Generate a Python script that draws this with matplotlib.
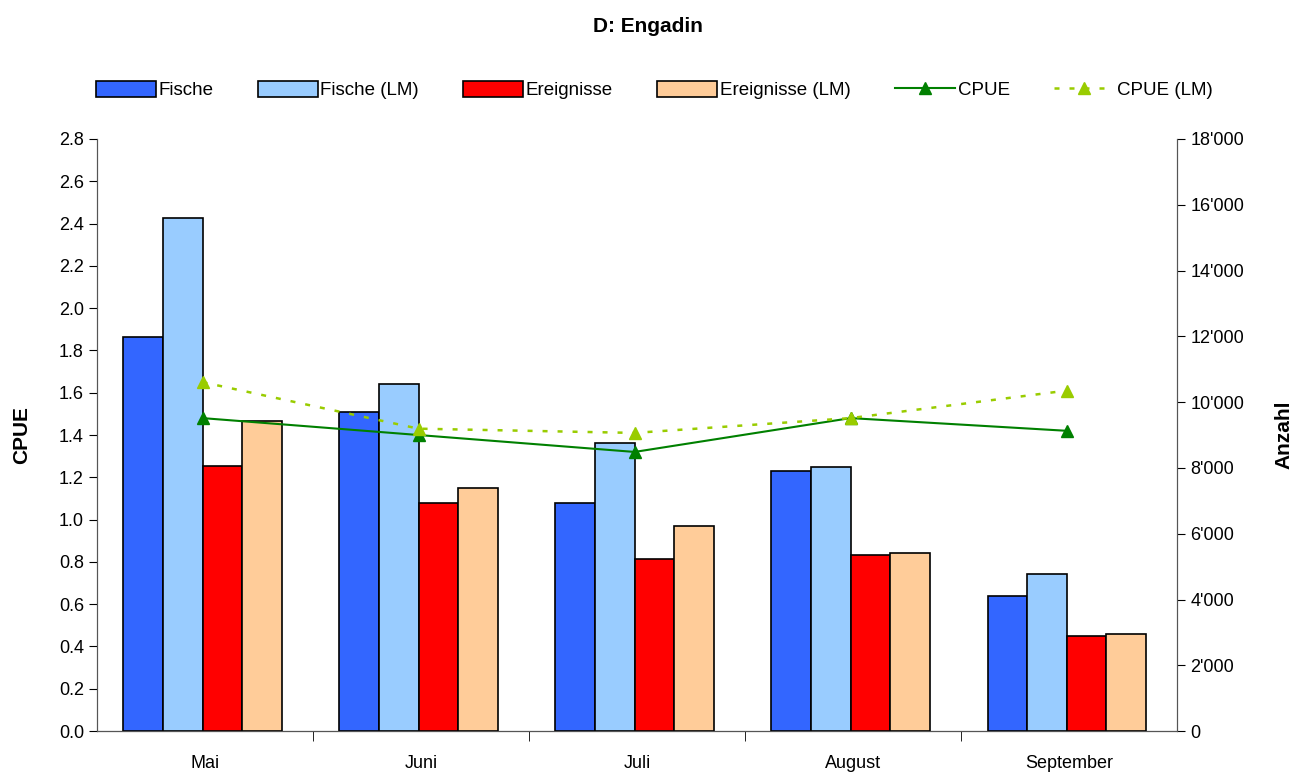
import numpy as np
import matplotlib.pyplot as plt
from matplotlib.ticker import FuncFormatter, FixedLocator

plt.rcParams['font.family'] = ['Liberation Sans', 'DejaVu Sans']

months = ['Mai', 'Juni', 'Juli', 'August', 'September']
fische = [11970, 9690, 6930, 7910, 4120]
fische_lm = [15600, 10550, 8760, 8020, 4790]
ereignisse = [8060, 6920, 5230, 5350, 2890]
ereignisse_lm = [9430, 7390, 6230, 5410, 2950]
cpue = [1.48, 1.40, 1.32, 1.48, 1.42]
cpue_lm = [1.65, 1.43, 1.41, 1.48, 1.61]

fig = plt.figure(figsize=(12.95, 7.72), dpi=100)
ax = fig.add_axes([0.075, 0.053, 0.834, 0.767])
ax2 = ax.twinx()

x = np.arange(len(months))
w = 0.183
bar_series = [
    (fische, 'Fische', '#3366FF'),
    (fische_lm, 'Fische (LM)', '#99CCFF'),
    (ereignisse, 'Ereignisse', '#FF0000'),
    (ereignisse_lm, 'Ereignisse (LM)', '#FFCC99'),
]
handles = []
for i, (vals, name, col) in enumerate(bar_series):
    b = ax.bar(x + (i - 1.5) * w - 0.012, vals, w, color=col, edgecolor='black',
               linewidth=1.2, label=name)
    handles.append(b)

l1, = ax2.plot(x - 0.012, cpue, color='#008000', lw=1.5, marker='^', ms=8,
               label='CPUE')
l2, = ax2.plot(x - 0.012, cpue_lm, color='#99CC00', lw=1.8, ls=(0, (2, 4)),
               marker='^', ms=8, label='CPUE (LM)')
handles += [l1, l2]

# bars belong to the right axis (Anzahl), lines to the left axis (CPUE)
ax.set_ylim(0, 18000)
ax.yaxis.tick_right()
ax.yaxis.set_label_position('right')
ax.set_yticks(np.arange(0, 18001, 2000))
ax.yaxis.set_major_formatter(FuncFormatter(lambda v, p: f"{int(v):,}".replace(',', "'")))
ax.set_ylabel('Anzahl', fontsize=15, fontweight='bold', labelpad=22)

ax2.set_ylim(0, 2.8)
ax2.yaxis.tick_left()
ax2.yaxis.set_label_position('left')
ax2.set_yticks(np.arange(0, 2.81, 0.2))
ax2.yaxis.set_major_formatter(FuncFormatter(lambda v, p: f"{v:.1f}"))
ax2.set_ylabel('CPUE', fontsize=15, fontweight='bold', labelpad=20)

ax.set_xlim(-0.5, len(months) - 0.5)
ax.set_xticks(x)
ax.set_xticklabels(months)
ax.xaxis.set_minor_locator(FixedLocator(np.arange(0.5, len(months) - 0.5, 1)))
ax.tick_params(axis='x', which='major', length=0, labelsize=13, pad=17)
ax.tick_params(axis='x', which='minor', length=7, direction='out')
ax.tick_params(axis='y', labelsize=13, length=6, direction='out')
ax2.tick_params(axis='y', labelsize=13, length=6, direction='out')

for a in (ax, ax2):
    a.spines['top'].set_visible(False)
    for s in ('left', 'right', 'bottom'):
        a.spines[s].set_color('#555555')
ax.spines['bottom'].set_color('black')

fig.suptitle('D: Engadin', fontsize=15, fontweight='bold', y=0.978)
fig.legend(handles=handles, loc='center', bbox_to_anchor=(0.505, 0.883), ncol=6,
           frameon=False, fontsize=13.5, handlelength=3.2, handleheight=0.9,
           handletextpad=0.15, columnspacing=2.35)

fig.savefig('out.png', dpi=100)
